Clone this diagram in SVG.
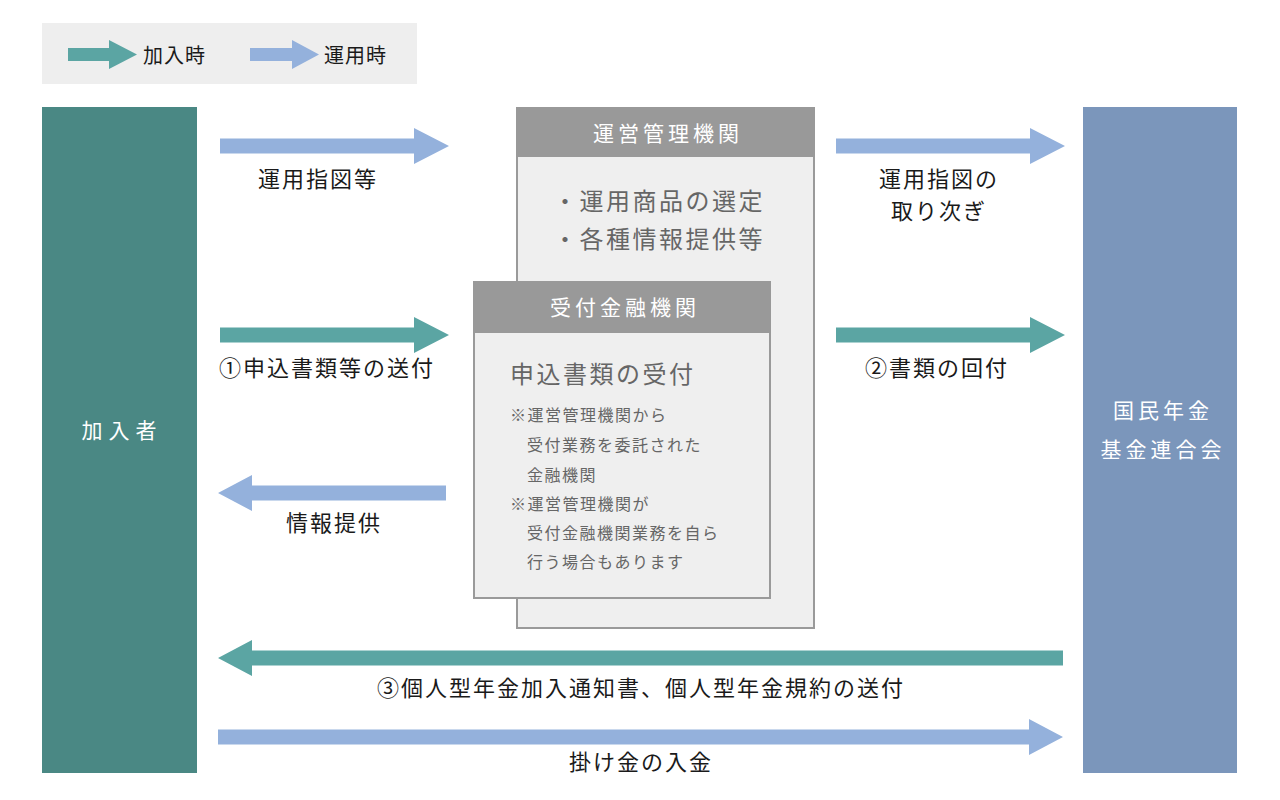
<svg xmlns="http://www.w3.org/2000/svg" width="1280" height="800" viewBox="0 0 1280 800">
<style>
text{font-family:"Noto Sans CJK JP","Noto Sans",sans-serif;}
.lbl{font-size:22px;fill:#1a1a1a;letter-spacing:2px;}
.teal{fill:#5ba5a3;}
.blue{fill:#94b1dc;}
.hdr{fill:#999999;}
.body{fill:#efefef;stroke:#9a9a9a;stroke-width:2;}
.ttl{font-size:21px;fill:#ffffff;letter-spacing:4px;text-anchor:middle;}
.big{font-size:24px;fill:#666666;letter-spacing:2.5px;}
.note{font-size:16px;fill:#666666;letter-spacing:1.5px;}
.side{font-size:21px;fill:#ffffff;letter-spacing:4px;text-anchor:middle;}
</style>
<rect width="1280" height="800" fill="#ffffff"/>

<g id="legend">
<rect x="42" y="23" width="375" height="61" fill="#eeeeee"/>
<polygon class="teal" points="68,48 109,48 109,40 137,54.5 109,69 109,61 68,61"/>
<text x="143" y="63" style="font-size:20px;fill:#1a1a1a;letter-spacing:1px">加入時</text>
<polygon class="blue" points="250,48 292,48 292,40 319,54.5 292,69 292,61 250,61"/>
<text x="324" y="63" style="font-size:20px;fill:#1a1a1a;letter-spacing:1px">運用時</text>
</g>

<g id="kanyusha">
<rect x="42" y="107" width="155" height="666" fill="#4a8884"/>
<text class="side" x="122" y="438" style="letter-spacing:6px">加入者</text>
</g>

<g id="rengokai">
<rect x="1083" y="107" width="154" height="666" fill="#7b96bb"/>
<text class="side" x="1163" y="418">国民年金</text>
<text class="side" x="1163" y="457">基金連合会</text>
</g>

<g id="unei">
<rect class="body" x="517" y="108" width="297" height="520"/>
<rect class="hdr" x="516" y="107" width="299" height="50"/>
<text class="ttl" x="668" y="141">運営管理機関</text>
<text class="big" x="553" y="210">・運用商品の選定</text>
<text class="big" x="553" y="248">・各種情報提供等</text>
</g>

<g id="uketsuke">
<rect class="body" x="474" y="282" width="296" height="316"/>
<rect class="hdr" x="473" y="281" width="298" height="52"/>
<text class="ttl" x="625" y="315">受付金融機関</text>
<text class="big" x="510" y="383">申込書類の受付</text>
<text class="note" x="510" y="421">※運営管理機関から</text>
<text class="note" x="527" y="451">受付業務を委託された</text>
<text class="note" x="527" y="481">金融機関</text>
<text class="note" x="510" y="510">※運営管理機関が</text>
<text class="note" x="527" y="539">受付金融機関業務を自ら</text>
<text class="note" x="527" y="568">行う場合もあります</text>
</g>

<g id="connectors">
<polygon class="blue" points="220,138.5 414,138.5 414,128 449,146 414,164 414,153.5 220,153.5"/>
<polygon class="blue" points="836,138.5 1030,138.5 1030,128 1065,146 1030,164 1030,153.5 836,153.5"/>
<polygon class="teal" points="220,327.5 414,327.5 414,317 449,335 414,353 414,342.5 220,342.5"/>
<polygon class="teal" points="836,327.5 1030,327.5 1030,317 1065,335 1030,353 1030,342.5 836,342.5"/>
<polygon class="blue" points="446,485.5 252,485.5 252,475 218,493 252,511 252,500.5 446,500.5"/>
<polygon class="teal" points="1063,650.5 252,650.5 252,640 218,658 252,676 252,665.5 1063,665.5"/>
<polygon class="blue" points="218,729.5 1029,729.5 1029,719 1063,737 1029,755 1029,744.5 218,744.5"/>
</g>

<g id="labels">
<text class="lbl" x="258" y="187">運用指図等</text>
<text class="lbl" x="879" y="187">運用指図の</text>
<text class="lbl" x="891" y="219">取り次ぎ</text>
<text class="lbl" x="219" y="376">①申込書類等の送付</text>
<text class="lbl" x="865" y="376">②書類の回付</text>
<text class="lbl" x="286" y="531">情報提供</text>
<text class="lbl" x="641" y="696" text-anchor="middle">③個人型年金加入通知書、個人型年金規約の送付</text>
<text class="lbl" x="641" y="770" text-anchor="middle">掛け金の入金</text>
</g>
</svg>
